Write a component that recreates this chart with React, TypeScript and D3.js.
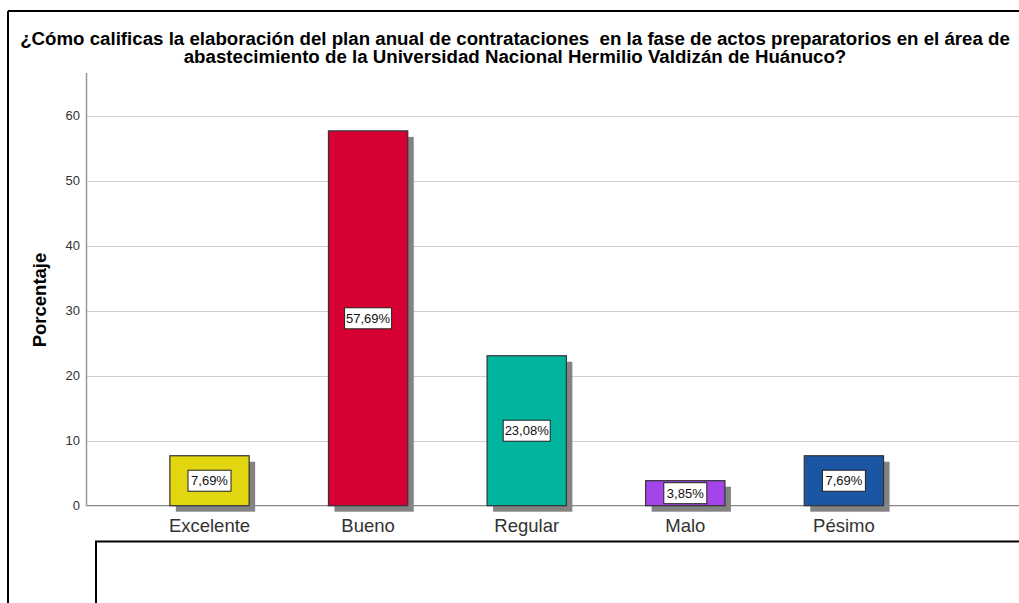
import React from "react";
import * as d3 from "d3";

const categories = ["Excelente", "Bueno", "Regular", "Malo", "Pésimo"];
const values = [7.69, 57.69, 23.08, 3.85, 7.69];
const valueLabels = ["7,69%", "57,69%", "23,08%", "3,85%", "7,69%"];
const colors = ["#E1D60F", "#D60032", "#00B49E", "#A445EA", "#1B56A5"];
const yTicks = [0, 10, 20, 30, 40, 50, 60];
const titleLines = [
  "¿Cómo calificas la elaboración del plan anual de contrataciones  en la fase de actos preparatorios en el área de",
  "abastecimiento de la Universidad Nacional Hermilio Valdizán de Huánuco?",
];
const yLabel = "Porcentaje";

export default function App() {
  const W = 1019;
  const H = 603;
  const axisX = 86.5;
  const y = d3.scaleLinear().domain([0, 66.6]).range([505.7, 73]);
  const x = d3
    .scaleBand<string>()
    .domain(categories)
    .range([130.2, 923.2])
    .paddingInner(0.5)
    .paddingOuter(0.25);
  const bw = x.bandwidth();
  const font = "'Liberation Sans', Arial, sans-serif";
  return (
    <svg
      width={W}
      height={H}
      style={{ position: "absolute", left: 0, top: 0, background: "#fff" }}
      fontFamily={font}
    >
      <rect x={0} y={0} width={W} height={H} fill="#fff" />
      {/* frame */}
      <line x1={8} x2={W} y1={11} y2={11} stroke="#000" strokeWidth={2} />
      <line x1={8} x2={8} y1={11} y2={H} stroke="#000" strokeWidth={2} />
      {/* title */}
      {titleLines.map((t, i) => (
        <text
          key={i}
          x={515}
          y={44.5 + i * 18.5}
          textAnchor="middle"
          fontSize={18.7}
          fontWeight="bold"
          fill="#000"
          style={{ whiteSpace: "pre" }}
        >
          {t}
        </text>
      ))}
      {/* grid */}
      {yTicks.map((t) => (
        <g key={t}>
          {t > 0 && (
            <line
              x1={axisX}
              x2={W}
              y1={Math.round(y(t)) + 0.5}
              y2={Math.round(y(t)) + 0.5}
              stroke="#cfcfcf"
              strokeWidth={1}
            />
          )}
          <text
            x={80}
            y={y(t) + 4.5}
            textAnchor="end"
            fontSize={13}
            fill="#333"
          >
            {t}
          </text>
        </g>
      ))}
      {/* axes */}
      <line x1={axisX} x2={axisX} y1={y(66.6)} y2={y(0)} stroke="#999" strokeWidth={1.5} />
      {/* bar shadows */}
      {categories.map((c, i) => {
        const bx = x(c)!;
        const top = y(values[i]);
        const h = y(0) - top;
        return <rect key={c} x={bx + 6} y={top + 6} width={bw} height={h} fill="#838383" />;
      })}
      <line x1={axisX} x2={W} y1={y(0)} y2={y(0)} stroke="#888" strokeWidth={1.2} />
      {categories.map((c, i) => {
        const bx = x(c)!;
        const top = y(values[i]);
        const h = y(0) - top;
        const cx = bx + bw / 2;
        const cy = y(values[i] / 2);
        const lw = valueLabels[i].length > 5 ? 47 : 43;
        return (
          <g key={c}>
            <rect
              x={bx}
              y={top}
              width={bw}
              height={h}
              fill={colors[i]}
              stroke="#333"
              strokeWidth={1.2}
            />
            <rect
              x={cx - lw / 2}
              y={cy - 10.5}
              width={lw}
              height={21}
              fill="#fff"
              stroke="#222"
              strokeWidth={1}
            />
            <text x={cx} y={cy + 4.5} textAnchor="middle" fontSize={13} fill="#111">
              {valueLabels[i]}
            </text>
            <text x={cx} y={531.5} textAnchor="middle" fontSize={18.5} fill="#333">
              {c}
            </text>
          </g>
        );
      })}
      {/* y label */}
      <text
        transform={`translate(46,${300}) rotate(-90)`}
        textAnchor="middle"
        fontSize={18.5}
        fontWeight="bold"
        fill="#000"
      >
        {yLabel}
      </text>
      {/* bottom box */}
      <rect x={96} y={541.5} width={W} height={100} fill="none" stroke="#000" strokeWidth={2} />
    </svg>
  );
}
